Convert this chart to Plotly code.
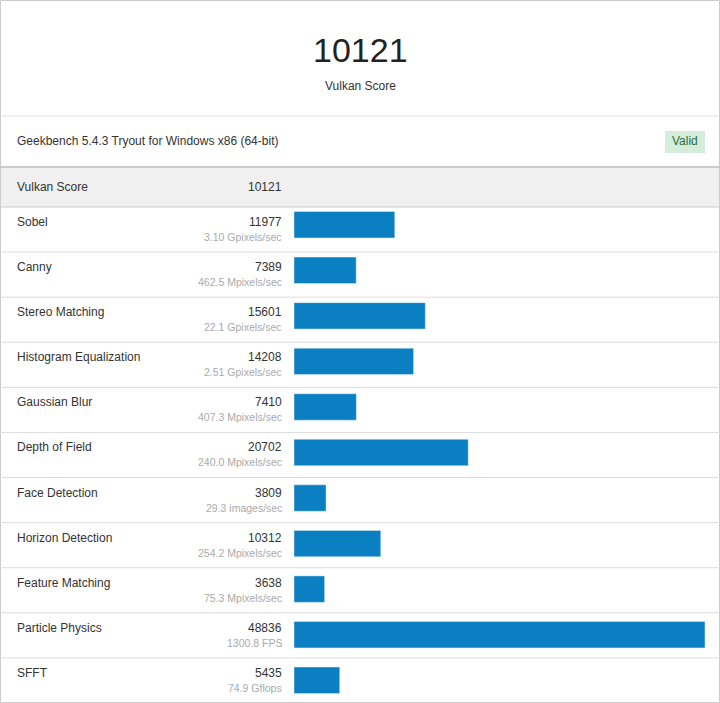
import plotly.graph_objects as go

W, H = 720, 703
names = ["Sobel", "Canny", "Stereo Matching", "Histogram Equalization", "Gaussian Blur",
         "Depth of Field", "Face Detection", "Horizon Detection", "Feature Matching",
         "Particle Physics", "SFFT"]
scores = [11977, 7389, 15601, 14208, 7410, 20702, 3809, 10312, 3638, 48836, 5435]
units = ["3.10 Gpixels/sec", "462.5 Mpixels/sec", "22.1 Gpixels/sec", "2.51 Gpixels/sec",
         "407.3 Mpixels/sec", "240.0 Mpixels/sec", "29.3 images/sec", "254.2 Mpixels/sec",
         "75.3 Mpixels/sec", "1300.8 FPS", "74.9 Gflops"]
total = 10121
title_label = "Vulkan Score"
subtitle = "Geekbench 5.4.3 Tryout for Windows x86 (64-bit)"

FONT = "Arial, Liberation Sans, sans-serif"
def py(y): return 1 - y / H
def px(x): return x / W

row_top, row_h = 207, (H - 207) / len(names)

fig = go.Figure(go.Bar(
    x=scores, y=names, orientation="h", marker_color="#0a7fc2",
    width=0.58, hoverinfo="skip"))

shapes = [
    dict(type="rect", xref="paper", yref="paper", x0=px(0.5), x1=px(719.5), y0=py(702.5), y1=py(0.5),
         line=dict(color="#cccccc", width=1)),
    dict(type="line", xref="paper", yref="paper", x0=0, x1=1, y0=py(116), y1=py(116), line=dict(color="#dddddd", width=1)),
    dict(type="rect", xref="paper", yref="paper", x0=px(1), x1=px(719), y0=py(207), y1=py(168),
         fillcolor="#f0f0f0", line=dict(width=0), layer="below"),
    dict(type="line", xref="paper", yref="paper", x0=0, x1=1, y0=py(167), y1=py(167), line=dict(color="#bbbbbb", width=1.5)),
    dict(type="line", xref="paper", yref="paper", x0=0, x1=1, y0=py(207), y1=py(207), line=dict(color="#cccccc", width=1)),
    dict(type="rect", xref="paper", yref="paper", x0=px(665), x1=px(705), y0=py(153), y1=py(131),
         fillcolor="#d5eedb", line=dict(width=0)),
]
for i in range(1, len(names)):
    y = row_top + i * row_h
    shapes.append(dict(type="line", xref="paper", yref="paper", x0=0, x1=1, y0=py(y), y1=py(y),
                       line=dict(color="#dddddd", width=1)))

ann = [
    dict(x=0.5, y=py(50), text=str(total), font=dict(size=34, color="#222")),
    dict(x=0.5, y=py(86), text=title_label, font=dict(size=12, color="#333")),
    dict(x=px(15), y=py(141), text=subtitle, xanchor="left", font=dict(size=12, color="#333")),
    dict(x=px(685), y=py(141), text="Valid", font=dict(size=12, color="#2f6b3c")),
    dict(x=px(15), y=py(187), text=title_label, xanchor="left", font=dict(size=12, color="#333")),
    dict(x=px(284), y=py(187), text=str(total), xanchor="right", font=dict(size=12, color="#333")),
]
for i, (n, s, u) in enumerate(zip(names, scores, units)):
    t = row_top + i * row_h
    ann.append(dict(x=px(15), y=py(t + 15), text=n, xanchor="left", font=dict(size=12, color="#333")))
    ann.append(dict(x=px(284), y=py(t + 15), text=str(s), xanchor="right", font=dict(size=12, color="#333")))
    ann.append(dict(x=px(284), y=py(t + 30), text=u, xanchor="right", font=dict(size=10.5, color="#aaaaaa")))
for a in ann:
    a.update(xref="paper", yref="paper", showarrow=False, yanchor="middle", font={**a["font"], "family": FONT})
    a.setdefault("xanchor", "center")

fig.update_layout(
    width=W, height=H, margin=dict(l=0, r=0, t=0, b=0),
    paper_bgcolor="white", plot_bgcolor="rgba(0,0,0,0)", showlegend=False,
    xaxis=dict(domain=[px(294), px(705)], range=[0, max(scores)], visible=False, fixedrange=True),
    yaxis=dict(domain=[0, py(row_top - 5)], autorange="reversed",
               visible=False, fixedrange=True),
    shapes=shapes, annotations=ann, bargap=0.42,
)
fig.write_html("out.html", config={"displayModeBar": False},
               post_script="document.body.style.margin='0';document.body.style.padding='0';document.body.style.overflow='hidden';")
